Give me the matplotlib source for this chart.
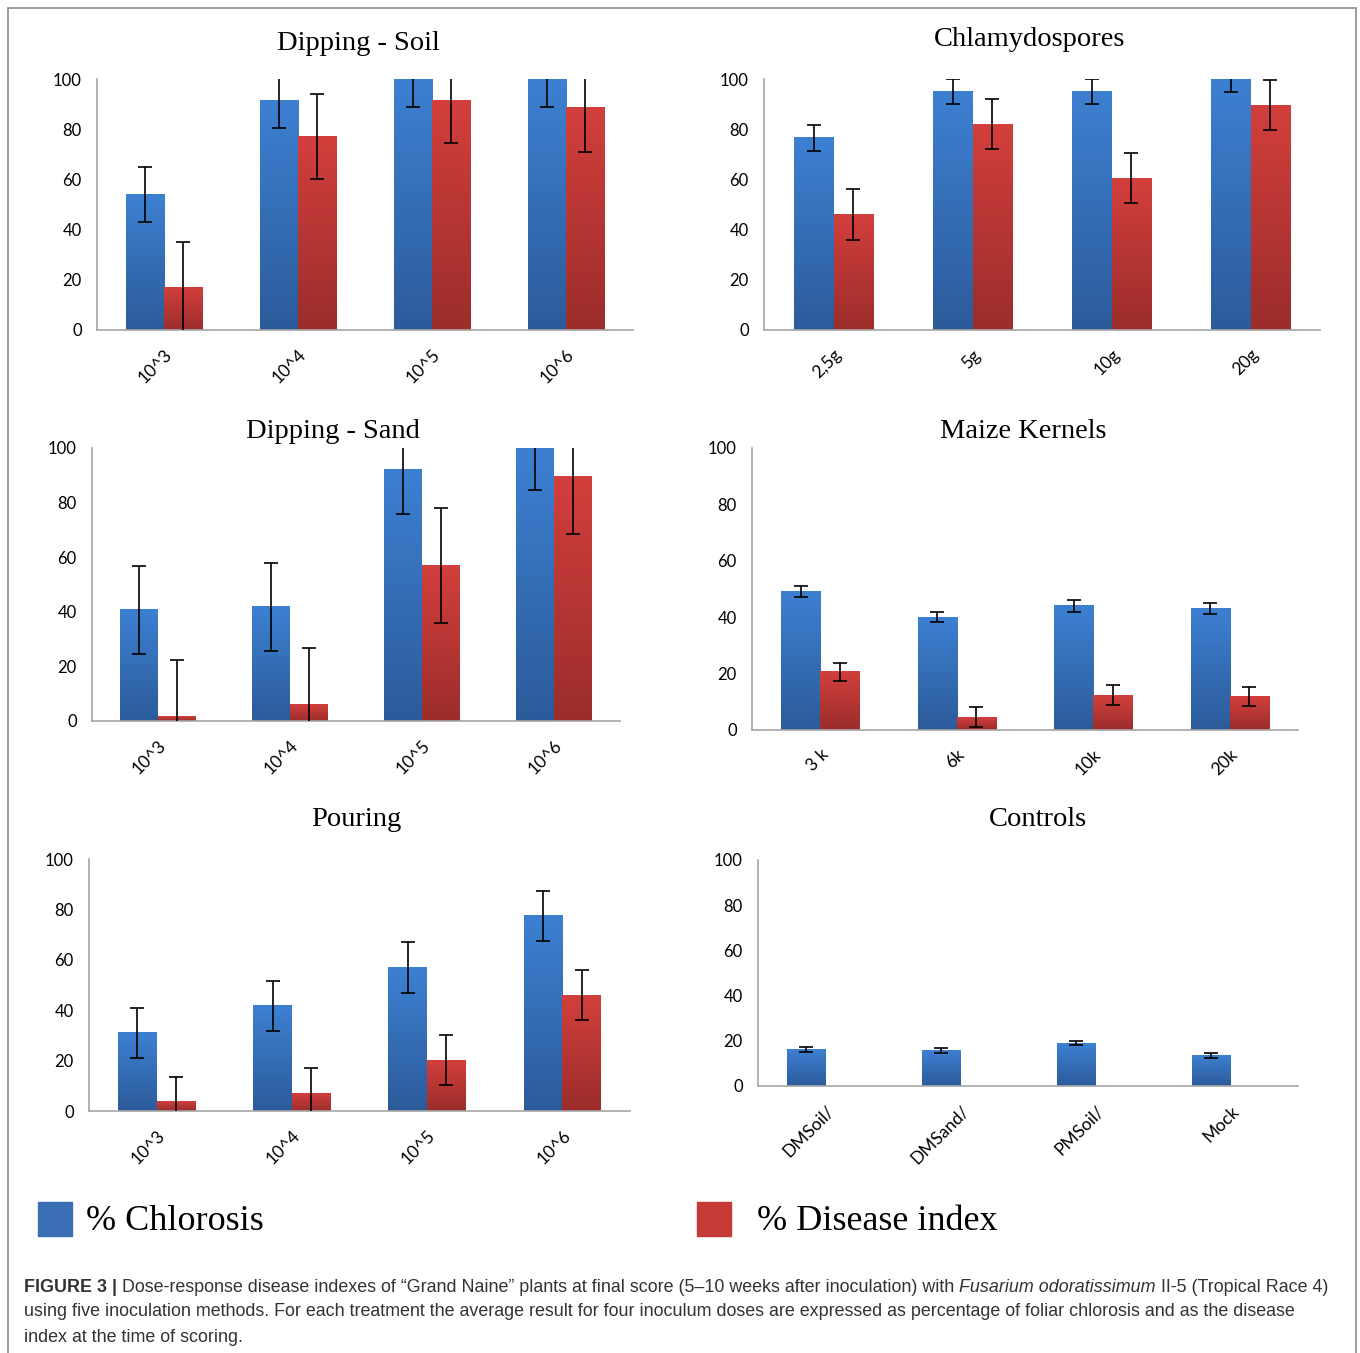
import matplotlib.pyplot as plt
import numpy as np
from matplotlib.colors import LinearSegmentedColormap
from matplotlib.patches import Rectangle

# data (mean, error) per panel
soil_cats = ["10^3", "10^4", "10^5", "10^6"]
soil_chl = [54, 91.5, 100, 100]
soil_chl_err = [11, 11, 11, 11]
soil_dis = [17, 77, 91.5, 88.5]
soil_dis_err = [18, 17, 17, 17.5]

chlamy_cats = ["2,5g", "5g", "10g", "20g"]
chlamy_chl = [76.5, 95, 95, 100]
chlamy_chl_err = [5, 5, 5, 5]
chlamy_dis = [46, 82, 60.5, 89.5]
chlamy_dis_err = [10, 10, 10, 10]

sand_cats = ["10^3", "10^4", "10^5", "10^6"]
sand_chl = [40.7, 41.8, 92, 100]
sand_chl_err = [16, 16, 16, 15.5]
sand_dis = [1.5, 5.9, 57, 89.4]
sand_dis_err = [21, 21, 21, 21]

maize_cats = ["3 k", "6k", "10k", "20k"]
maize_chl = [49, 40, 44, 43]
maize_chl_err = [2, 1.8, 2, 2]
maize_dis = [20.6, 4.6, 12.4, 12]
maize_dis_err = [3.3, 3.6, 3.5, 3.4]

pour_cats = ["10^3", "10^4", "10^5", "10^6"]
pour_chl = [31, 41.7, 57, 77.4]
pour_chl_err = [10, 10, 10, 10]
pour_dis = [3.6, 7, 20.2, 46]
pour_dis_err = [10, 10, 10, 10]

ctrl_cats = ["DMSoil/", "DMSand/", "PMSoil/", "Mock"]
ctrl_chl = [16, 15.5, 19, 13.7]
ctrl_chl_err = [1.1, 1.1, 1.0, 1.1]

blue_cmap = LinearSegmentedColormap.from_list("b", ["#2c5b9a", "#3d80d2"])
red_cmap = LinearSegmentedColormap.from_list("r", ["#9b2d2b", "#d23f3c"])
grad = np.linspace(0, 1, 256).reshape(-1, 1)

W = 1360
H = 1353
fig = plt.figure(figsize=(13.6, 13.53), dpi=100)


def px_axes(left, right, top, bottom):
    return fig.add_axes([left / W, 1 - bottom / H, (right - left) / W, (bottom - top) / H])


def grad_bars(ax, xs, vals, errs, cmap, width):
    for x, v, e in zip(xs, vals, errs):
        ax.imshow(grad, extent=[x - width / 2, x + width / 2, 0, v], origin="lower",
                  aspect="auto", cmap=cmap, zorder=2, interpolation="bilinear")
        ax.errorbar(x, v, yerr=e, fmt="none", ecolor="black", elinewidth=1.2,
                    capsize=5, capthick=1.2, zorder=3)


def panel(box, title, title_xy, cats, chl, chl_err, dis=None, dis_err=None):
    ax = px_axes(*box)
    w = 0.286
    xs = np.arange(len(cats))
    grad_bars(ax, xs - w / 2, chl, chl_err, blue_cmap, w)
    if dis is not None:
        grad_bars(ax, xs + w / 2, dis, dis_err, red_cmap, w)
    ax.set_xlim(-0.5, len(cats) - 0.5)
    ax.set_ylim(0, 100)
    ax.set_yticks([0, 20, 40, 60, 80, 100])
    ax.set_xticks(xs)
    ax.set_xticklabels(cats, rotation=45, ha="right", rotation_mode="anchor",
                       family="Lato", fontsize=12.5)
    for lab in ax.get_yticklabels():
        lab.set_family("Lato")
        lab.set_fontsize(12)
    ax.tick_params(length=0, pad=12, axis="x")
    ax.tick_params(length=0, pad=11, axis="y")
    for s in ["top", "right"]:
        ax.spines[s].set_visible(False)
    for s in ["left", "bottom"]:
        ax.spines[s].set_color("#a6a6a6")
        ax.spines[s].set_linewidth(1.2)
    fig.text(title_xy[0] / W, 1 - title_xy[1] / H, title, ha="center", va="center",
             family="Liberation Serif", fontsize=20.5)
    return ax


panel((97, 633, 79, 330), "Dipping - Soil", (358, 43), soil_cats, soil_chl, soil_chl_err, soil_dis, soil_dis_err)
panel((764, 1320, 79, 330), "Chlamydospores", (1030, 39), chlamy_cats, chlamy_chl, chlamy_chl_err, chlamy_dis, chlamy_dis_err)
panel((92, 620, 448, 721), "Dipping - Sand", (333, 432), sand_cats, sand_chl, sand_chl_err, sand_dis, sand_dis_err)
panel((752, 1298, 448, 730), "Maize Kernels", (1023, 431), maize_cats, maize_chl, maize_chl_err, maize_dis, maize_dis_err)
panel((89, 630, 859, 1111), "Pouring", (356, 820), pour_cats, pour_chl, pour_chl_err, pour_dis, pour_dis_err)
panel((758, 1298, 860, 1086), "Controls", (1038, 819), ctrl_cats, ctrl_chl, ctrl_chl_err)

# legend
fig.patches.append(Rectangle((38 / W, 1 - 1236 / H), 34 / W, 34 / H, transform=fig.transFigure,
                             color="#3a6fb5", figure=fig))
fig.patches.append(Rectangle((697 / W, 1 - 1236 / H), 34 / W, 34 / H, transform=fig.transFigure,
                             color="#c63a38", figure=fig))
fig.text(86 / W, 1 - 1222 / H, "% Chlorosis", family="Liberation Serif", fontsize=26, va="center")
fig.text(757 / W, 1 - 1222 / H, "% Disease index", family="Liberation Serif", fontsize=26, va="center")

# frame around the figure
fig.patches.append(Rectangle((8 / W, -0.01), 1348 / W, 1 - 8 / H + 0.01, transform=fig.transFigure,
                             fill=False, edgecolor="#8c8c8c", linewidth=1.2, figure=fig))

# caption, written piece by piece so bold / italic parts line up
renderer = fig.canvas.get_renderer()
cap_size = 12.9
lines = [
    [("FIGURE 3 |", "bold", "normal"),
     (" Dose-response disease indexes of \u201cGrand Naine\u201d plants at final score (5\u201310 weeks after inoculation) with ", "normal", "normal"),
     ("Fusarium odoratissimum", "normal", "italic"),
     (" II-5 (Tropical Race 4)", "normal", "normal")],
    [("using five inoculation methods. For each treatment the average result for four inoculum doses are expressed as percentage of foliar chlorosis and as the disease", "normal", "normal")],
    [("index at the time of scoring.", "normal", "normal")],
]
line_y = [1287, 1312, 1338]
for parts, y in zip(lines, line_y):
    x = 24
    for txt, weight, style in parts:
        t = fig.text(x / W, 1 - y / H, txt, family="Liberation Sans", fontsize=cap_size,
                     fontweight=weight, fontstyle=style, va="center", color="#333333")
        bb = t.get_window_extent(renderer=renderer)
        x += bb.width

fig.savefig("out.png", dpi=100)
